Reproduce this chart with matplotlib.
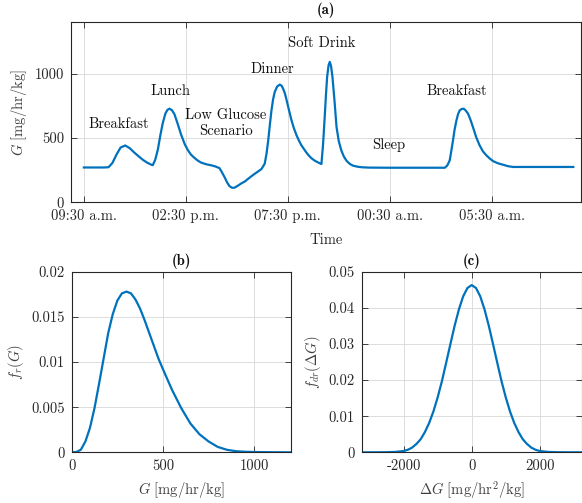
import matplotlib
matplotlib.use("Agg")
import matplotlib.pyplot as plt
from matplotlib.ticker import FixedLocator, FixedFormatter

# ---- (a) glucose appearance rate over a day (hours after 09:30) ----
time_h = [0.00, 0.50, 1.00, 1.21, 1.40, 1.60, 1.80, 2.03, 2.25, 2.48, 2.70, 2.89,
          3.10, 3.30, 3.38, 3.50, 3.63, 3.75, 3.87, 4.00, 4.10, 4.20, 4.32, 4.44,
          4.60, 4.77, 4.95, 5.10, 5.25, 5.42, 5.60, 5.75, 6.00, 6.24, 6.45, 6.65,
          6.78, 6.90, 7.02, 7.14, 7.27, 7.39, 7.55, 7.71, 7.90, 8.04, 8.30, 8.55,
          8.71, 8.87, 8.96, 9.04, 9.12, 9.20, 9.28, 9.36, 9.48, 9.61, 9.70, 9.77,
          9.86, 9.94, 10.06, 10.18, 10.30, 10.43, 10.55, 10.67, 10.85, 11.00, 11.16,
          11.32, 11.50, 11.65, 11.73, 11.81, 11.87, 11.93, 12.00, 12.06, 12.12, 12.19,
          12.29, 12.39, 12.50, 12.63, 12.75, 12.88, 13.04, 13.20, 13.45, 13.69, 14.00,
          15.00, 16.00, 17.00, 17.70, 17.82, 17.94, 18.02, 18.10, 18.18, 18.27, 18.35,
          18.43, 18.53, 18.63, 18.73, 18.84, 18.96, 19.08, 19.24, 19.41, 19.57, 19.74,
          19.90, 20.07, 20.30, 20.56, 20.80, 21.05, 22.00, 23.00, 24.00]
glucose = [270, 270, 270, 272, 305, 370, 425, 441, 420, 385, 355, 330,
           308, 292, 288, 330, 410, 520, 615, 690, 718, 727, 715, 685,
           610, 525, 450, 405, 370, 345, 322, 308, 295, 287, 278, 265,
           230, 195, 155, 125, 112, 113, 128, 145, 162, 180, 212, 240,
           258, 300, 380, 480, 600, 714, 800, 857, 900, 914, 905, 883,
           845, 795, 715, 638, 575, 520, 478, 442, 400, 368, 342,
           323, 308, 297, 450, 661, 830, 975, 1065, 1091, 1060, 975,
           790, 585, 475, 400, 355, 322, 298, 284, 275, 271, 269,
           268, 268, 268, 268, 285, 325, 400, 480, 565, 636, 685,
           714, 725, 727, 712, 688, 640, 584, 505, 441, 395, 364,
           340, 319, 303, 291, 280, 274, 274, 274, 274]
time_ticks = [0, 5, 10, 15, 20]
time_labels = ["09:30 a.m.", "02:30 p.m.", "07:30 p.m.", "00:30 a.m.", "05:30 a.m."]

event_names = ["Breakfast", "Lunch", "Low Glucose\nScenario", "Dinner",
               "Soft Drink", "Sleep", "Breakfast"]
event_t = [1.72, 4.26, 6.96, 9.22, 11.67, 14.95, 18.28]
event_g = [606, 862, 614, 1033, 1235, 443, 862]

# ---- (b) density of G ----
g_vals = [0, 25, 50, 75, 100, 125, 150, 175, 200, 225, 250, 275, 300, 325, 350,
          375, 400, 425, 450, 475, 500, 550, 600, 650, 700, 750, 800, 850, 900,
          950, 1000, 1100, 1200]
f_r = [0.0, 0.00003, 0.00028, 0.0012, 0.0027, 0.0049, 0.0076, 0.0104, 0.0132,
       0.0153, 0.0168, 0.0176, 0.0178, 0.0176, 0.0169, 0.0159, 0.0146, 0.0132,
       0.0118, 0.0104, 0.0092, 0.0069, 0.0049, 0.0032, 0.0020, 0.0012, 0.0006,
       0.00028, 0.00012, 0.00006, 0.00003, 0.00001, 0.0]

# ---- (c) density of the rate of change of G ----
dg_vals = [-3250, -3000, -2750, -2500, -2250, -2000, -1875, -1750, -1625, -1500,
           -1375, -1250, -1125, -1000, -875, -750, -625, -500, -375, -250, -125,
           0, 125, 250, 375, 500, 625, 750, 875, 1000, 1125, 1250, 1375, 1500,
           1625, 1750, 1875, 2000, 2250, 2500, 2750, 3000, 3250]
f_dr = [0.0, 0.0, 0.00001, 0.00003, 0.0001, 0.00035, 0.0007, 0.0013, 0.0023,
        0.0036, 0.0056, 0.0081, 0.0113, 0.0152, 0.0197, 0.0248, 0.0300, 0.0351,
        0.0396, 0.0432, 0.0455, 0.0463, 0.0455, 0.0432, 0.0396, 0.0351, 0.0300,
        0.0248, 0.0197, 0.0152, 0.0113, 0.0081, 0.0056, 0.0036, 0.0023, 0.0013,
        0.0007, 0.00035, 0.0001, 0.00003, 0.00001, 0.0, 0.0]

plt.rcParams.update({
    "font.family": "cmr10",
    "mathtext.fontset": "cm",
    "axes.unicode_minus": False,
    "font.size": 10.5,
})

LINE = "#0072BD"
INK = "#262626"


def style(ax):
    ax.tick_params(direction="in", top=True, right=True, length=4, width=0.6,
                   colors=INK, labelsize=10.5, pad=5)
    for s in ax.spines.values():
        s.set_color(INK)
        s.set_linewidth(0.8)
    ax.grid(True, color="#dcdcdc", linewidth=0.7)
    ax.set_axisbelow(True)


def set_ticks(ax, axis, vals, labels):
    a = ax.xaxis if axis == "x" else ax.yaxis
    a.set_major_locator(FixedLocator(vals))
    a.set_major_formatter(FixedFormatter(labels))


fig = plt.figure(figsize=(5.82, 5.03), dpi=100)

# panel (a)
ax1 = fig.add_axes([0.122, 0.598, 0.876, 0.358])
ax1.plot(time_h, glucose, color=LINE, linewidth=1.6)
ax1.set_xlim(-0.63, 24.37)
ax1.set_ylim(0, 1400)
set_ticks(ax1, "x", time_ticks, time_labels)
set_ticks(ax1, "y", [0, 500, 1000], ["0", "500", "1000"])
style(ax1)
for name, t, g in zip(event_names, event_t, event_g):
    ax1.text(t, g, name, ha="center", va="center", fontsize=10.5, color="#111111",
             linespacing=1.15)
ax1.set_xlabel("Time", color=INK, labelpad=7)
ax1.set_ylabel(r"$G\ [\mathrm{mg/hr/kg}]$", color="#404040", labelpad=4)
ax1.set_title("(a)", fontfamily="cmb10", fontsize=10.5, pad=6, color="#111111")

# panel (b)
ax2 = fig.add_axes([0.1232, 0.1008, 0.3763, 0.359])
ax2.plot(g_vals, f_r, color=LINE, linewidth=1.6)
ax2.set_xlim(0, 1200)
ax2.set_ylim(0, 0.02)
set_ticks(ax2, "x", [0, 500, 1000], ["0", "500", "1000"])
set_ticks(ax2, "y", [0, 0.005, 0.01, 0.015, 0.02],
          ["0", "0.005", "0.01", "0.015", "0.02"])
style(ax2)
ax2.set_xlabel(r"$G\ [\mathrm{mg/hr/kg}]$", color="#404040", labelpad=5)
ax2.set_ylabel(r"$f_r(G)$", color="#404040", labelpad=4)
ax2.set_title("(b)", fontfamily="cmb10", fontsize=10.5, pad=5, color="#111111")

# panel (c)
ax3 = fig.add_axes([0.6215, 0.1008, 0.378, 0.359])
ax3.plot(dg_vals, f_dr, color=LINE, linewidth=1.6)
ax3.set_xlim(-3230, 3230)
ax3.set_ylim(0, 0.05)
set_ticks(ax3, "x", [-2000, 0, 2000], ["-2000", "0", "2000"])
set_ticks(ax3, "y", [0, 0.01, 0.02, 0.03, 0.04, 0.05],
          ["0", "0.01", "0.02", "0.03", "0.04", "0.05"])
style(ax3)
ax3.set_xlabel(r"$\Delta G\ [\mathrm{mg/hr^2/kg}]$", color="#404040", labelpad=5)
ax3.set_ylabel(r"$f_{dr}(\Delta G)$", color="#404040", labelpad=4)
ax3.set_title("(c)", fontfamily="cmb10", fontsize=10.5, pad=5, color="#111111")

fig.savefig("out.png", dpi=100)
